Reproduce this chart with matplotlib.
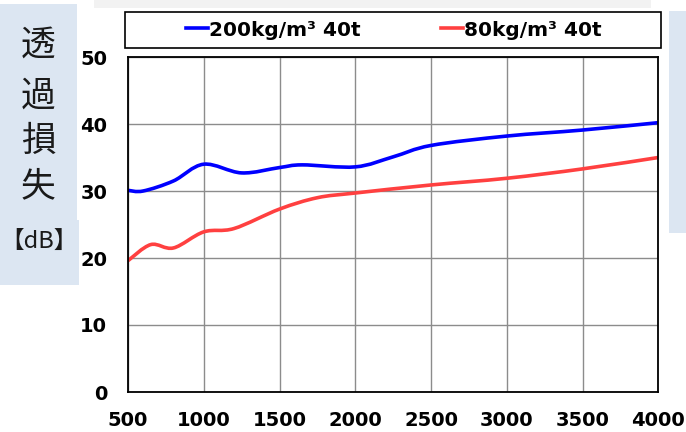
import matplotlib
matplotlib.use("Agg")
import matplotlib.pyplot as plt
from matplotlib.patches import Rectangle, PathPatch
from matplotlib.path import Path
from matplotlib.lines import Line2D

# values
freq_a = [500, 600, 800, 1000, 1250, 1500, 1650, 2000, 2250, 2500, 3000, 3500, 4000]
tl_a = [30.1, 30.0, 31.5, 34.0, 32.7, 33.5, 33.9, 33.6, 35.1, 36.8, 38.2, 39.1, 40.2]
freq_b = [500, 650, 800, 1000, 1200, 1500, 1750, 2000, 2500, 3000, 3500, 4000]
tl_b = [19.6, 22.0, 21.5, 23.9, 24.4, 27.3, 29.0, 29.7, 30.9, 31.9, 33.3, 35.0]
label_a = "200kg/m³ 40t"
label_b = "80kg/m³ 40t"
xticks = [500, 1000, 1500, 2000, 2500, 3000, 3500, 4000]
yticks = [0, 10, 20, 30, 40, 50]

W, H = 686, 432
fig = plt.figure(figsize=(W / 100, H / 100), dpi=100)

def px_rect(x0, y0, x1, y1, color, **kw):
    # rectangle in pixel coords (top-left origin) on the figure
    fig.patches.append(Rectangle((x0 / W, 1 - y1 / H), (x1 - x0) / W, (y1 - y0) / H,
                                 transform=fig.transFigure, facecolor=color,
                                 edgecolor=kw.get("ec", "none"), lw=kw.get("lw", 0),
                                 zorder=kw.get("z", 0)))

def smooth_path(xs, ys):
    # smoothed line like a spreadsheet chart: bezier segments through the points
    verts = [(xs[0], ys[0])]
    codes = [Path.MOVETO]
    n = len(xs)
    for i in range(n - 1):
        x0, y0 = xs[max(i - 1, 0)], ys[max(i - 1, 0)]
        x1, y1 = xs[i], ys[i]
        x2, y2 = xs[i + 1], ys[i + 1]
        x3, y3 = xs[min(i + 2, n - 1)], ys[min(i + 2, n - 1)]
        c1 = (x1 + (x2 - x0) / 6, y1 + (y2 - y0) / 6)
        c2 = (x2 - (x3 - x1) / 6, y2 - (y3 - y1) / 6)
        verts += [c1, c2, (x2, y2)]
        codes += [Path.CURVE4] * 3
    return Path(verts, codes)

# background panels
px_rect(94, 0, 651, 7.5, "#f2f2f2")
px_rect(669, 11, 686, 233, "#dce6f2")
px_rect(0, 4, 77, 222, "#dce6f2")
px_rect(0, 220, 79, 285, "#dce6f2")

ax = fig.add_axes([128 / W, 1 - 392 / H, (658.3 - 128) / W, (392 - 57) / H])
for xs, ys, c in [(freq_a, tl_a, "#0000ff"), (freq_b, tl_b, "#ff4040")]:
    ax.add_patch(PathPatch(smooth_path(xs, ys), facecolor="none", edgecolor=c,
                           lw=2.6, capstyle="butt", clip_on=True))

ax.set_xlim(500, 4000)
ax.set_ylim(0, 50)
ax.set_xticks(xticks)
ax.set_yticks(yticks)
ax.grid(True, color="#8c8c8c", lw=1)
ax.set_axisbelow(True)
ax.tick_params(length=0, labelsize=14)
ax.tick_params(axis="y", pad=15)
ax.tick_params(axis="x", pad=14)
for t in ax.get_xticklabels() + ax.get_yticklabels():
    t.set_fontweight("bold")
for s in ax.spines.values():
    s.set_linewidth(1.3)
    s.set_color("black")

# legend box above the plot
px_rect(125, 11.7, 661, 48, "white", ec="black", lw=1.2, z=2)
handles = [Line2D([], [], color="#0000ff", lw=2.6), Line2D([], [], color="#ff4040", lw=2.6)]
fig.legend(handles, [label_a, label_b], loc="center", bbox_to_anchor=(394 / W, 1 - 30 / H),
           ncol=2, frameon=False, handlelength=1.1, handletextpad=0.05,
           columnspacing=4.0, prop={"weight": "bold", "size": 14.5})

# y-axis title, stacked characters
cjk = ["Noto Sans CJK JP", "DejaVu Sans"]
for ch, yy in zip("透過損失", [45, 96, 141, 187]):
    fig.text(38 / W, 1 - yy / H, ch, ha="center", va="center", fontsize=25,
             family=cjk, color="#1a1a1a")
fig.text(39 / W, 1 - 241 / H, "【dB】", ha="center", va="center", fontsize=17,
         family=cjk, color="#1a1a1a")

fig.savefig("out.png", dpi=100)
